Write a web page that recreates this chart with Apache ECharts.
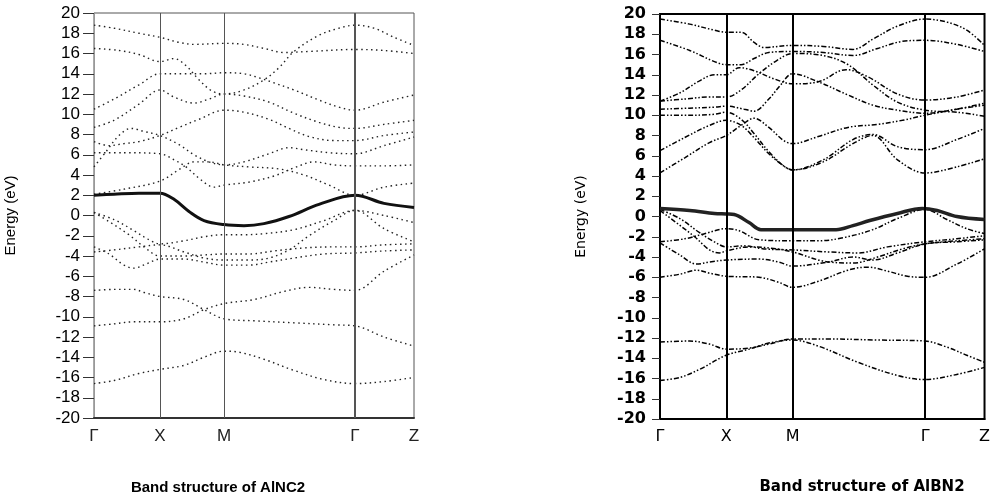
<!DOCTYPE html>
<html>
<head>
<meta charset="utf-8">
<script src="https://cdn.jsdelivr.net/npm/echarts@6/dist/echarts.min.js"></script>
<style>
html,body{margin:0;padding:0;background:#fff;}
#chart{width:993px;height:501px;}
</style>
</head>
<body>
<div id="chart"></div>
<script>
// ---- high-symmetry points ----
const kLabels = ['Γ', 'X', 'M', 'Γ', 'Z'];
const leftKPos = [0, 66, 130, 261, 320];
const rightKPos = [0, 67, 134, 268, 328];
const yTicks = [-20, 20, 2]; // min, max, step

// ---- Left panel: AlNC2 bands, [k, E(eV)] ----
const leftSolid = [[0,2.0],[20,2.1],[45,2.2],[66,2.2],[80,1.6],[95,0.4],[110,-0.5],[130,-0.9],[150,-1.0],[170,-0.8],[195,-0.1],[225,1.1],[261,2.0],[290,1.2],[320,0.8]];
const leftU1 = [[0,18.8],[20,18.5],[45,18.0],[66,17.6],[85,17.1],[100,16.9],[130,17.0],[150,16.9],[170,16.5],[190,16.1],[215,16.2],[261,16.4],[290,16.3],[320,16.0]];
const leftU2 = [[0,16.5],[25,16.3],[45,15.9],[66,15.2],[80,15.5],[92,14.8],[105,13.4],[118,12.3],[130,12.0],[150,12.4],[170,13.4],[185,14.6],[200,16.2],[225,17.8],[245,18.5],[261,18.8],[280,18.5],[300,17.6],[320,16.8]];
const leftU3 = [[0,10.5],[20,11.5],[45,12.9],[66,14.0],[90,14.0],[110,14.0],[130,14.1],[150,14.0],[165,13.6],[180,13.1],[200,12.4],[225,11.4],[245,10.7],[261,10.4],[290,11.2],[320,11.9]];
const leftU4 = [[0,8.7],[20,9.4],[45,11.0],[66,12.4],[80,11.7],[100,11.1],[115,11.5],[130,12.0],[150,11.8],[175,11.2],[200,10.1],[225,9.2],[245,8.7],[261,8.6],[290,9.0],[320,9.4]];
const leftU5 = [[0,7.3],[15,6.9],[30,7.1],[45,7.3],[66,7.9],[85,8.7],[105,9.5],[130,10.4],[150,10.2],[175,9.5],[195,8.6],[215,7.8],[240,7.4],[261,7.4],[290,7.9],[320,8.25]];
const leftU6 = [[0,4.8],[12,6.3],[25,7.9],[37,8.6],[50,8.3],[66,7.9],[85,7.0],[100,6.0],[115,5.3],[130,5.0],[150,5.3],[175,6.1],[195,6.7],[210,6.5],[235,6.2],[261,6.1],[290,6.9],[320,7.75]];
const leftU7 = [[0,6.2],[30,6.2],[66,6.1],[80,5.5],[92,4.8],[106,3.6],[120,2.8],[130,3.0],[155,3.3],[180,3.9],[200,4.7],[220,5.3],[240,5.0],[261,4.9],[290,4.9],[320,5.0]];
const leftU8 = [[0,2.1],[30,2.6],[66,3.4],[86,4.6],[100,5.3],[115,5.3],[130,5.0],[155,4.8],[185,4.6],[210,4.0],[235,3.0],[261,2.0],[290,2.8],[320,3.2]];
const leftL1 = [[0,0.3],[20,-0.4],[40,-1.5],[55,-2.4],[66,-2.8],[90,-2.5],[110,-2.1],[130,-1.9],[150,-1.9],[170,-1.8],[200,-1.4],[230,-0.5],[261,0.5],[290,0.0],[320,-0.7]];
const leftL2 = [[0,0.3],[15,-0.6],[35,-1.9],[50,-3.1],[66,-4.0],[90,-4.0],[110,-3.9],[130,-3.8],[155,-3.8],[180,-3.5],[210,-3.2],[240,-3.1],[261,-3.1],[290,-2.9],[320,-2.8]];
const leftL3 = [[0,-3.1],[15,-3.8],[30,-4.9],[40,-5.2],[52,-4.8],[66,-4.3],[90,-4.3],[110,-4.6],[130,-4.9],[155,-4.9],[175,-4.6],[200,-4.2],[230,-3.8],[261,-3.7],[290,-3.5],[320,-3.4]];
const leftL4 = [[0,-3.6],[20,-3.4],[45,-3.1],[66,-2.9],[90,-3.6],[110,-4.2],[130,-4.4],[155,-4.4],[175,-4.2],[195,-3.4],[215,-2.0],[240,-0.5],[261,0.5],[290,-1.3],[320,-2.6]];
const leftL5 = [[0,-7.4],[20,-7.3],[40,-7.3],[50,-7.6],[66,-8.0],[90,-8.3],[110,-9.3],[130,-10.2],[160,-10.4],[200,-10.6],[240,-10.8],[261,-10.9],[290,-12.0],[320,-12.9]];
const leftL6 = [[0,-10.9],[20,-10.7],[40,-10.5],[66,-10.5],[90,-10.2],[110,-9.3],[130,-8.7],[160,-8.3],[190,-7.5],[215,-7.1],[240,-7.3],[261,-7.4],[290,-5.5],[320,-3.9]];
const leftL7 = [[0,-16.6],[20,-16.3],[45,-15.6],[66,-15.2],[90,-14.8],[110,-14.0],[130,-13.4],[145,-13.5],[170,-14.2],[200,-15.3],[230,-16.2],[261,-16.6],[290,-16.4],[320,-16.0]];
const leftDotted = [leftU1,leftU2,leftU3,leftU4,leftU5,leftU6,leftU7,leftU8,leftL1,leftL2,leftL3,leftL4,leftL5,leftL6,leftL7];

// ---- Right panel: AlBN2 bands ----
const rightSolid = [[0,0.8],[30,0.6],[55,0.3],[67,0.25],[75,0.2],[90,-0.6],[102,-1.3],[134,-1.3],[178,-1.3],[195,-0.9],[212,-0.4],[240,0.3],[265,0.8],[280,0.6],[300,0.0],[328,-0.3]];
const rightA = [[0,19.5],[30,19.0],[55,18.4],[67,18.2],[82,18.2],[95,17.2],[105,16.7],[134,16.9],[165,16.8],[195,16.5],[215,17.5],[240,18.8],[268,19.5],[290,19.2],[310,18.4],[328,16.9]];
const rightB = [[0,17.4],[30,16.4],[55,15.3],[67,15.0],[82,15.0],[95,15.6],[110,16.2],[134,16.3],[165,16.2],[195,15.9],[220,16.6],[245,17.3],[268,17.4],[300,17.0],[328,16.3]];
const rightC = [[0,11.4],[20,12.2],[40,13.4],[55,14.0],[67,14.0],[80,14.7],[95,14.4],[115,13.6],[134,13.1],[160,13.3],[188,14.5],[210,13.8],[240,12.1],[268,11.5],[300,11.8],[328,12.5]];
const rightD = [[0,11.4],[25,11.6],[50,11.8],[67,11.8],[82,12.5],[100,14.1],[118,15.4],[134,16.1],[165,15.9],[190,15.0],[215,13.0],[240,11.3],[268,10.5],[300,10.3],[328,9.9]];
const rightE = [[0,10.6],[30,10.7],[55,10.8],[67,10.9],[85,10.6],[95,10.4],[110,11.6],[122,13.0],[134,14.1],[160,13.3],[190,12.0],[215,11.0],[240,10.5],[268,10.2],[300,10.6],[328,11.2]];
const rightF = [[0,10.0],[30,10.0],[55,10.1],[67,10.3],[82,9.6],[95,8.2],[110,6.4],[125,5.0],[134,4.6],[165,5.6],[195,7.6],[215,8.1],[240,6.9],[268,6.6],[300,7.6],[328,8.7]];
const rightG = [[0,6.5],[25,7.8],[50,9.0],[67,9.5],[82,9.0],[95,7.8],[110,6.2],[125,5.0],[134,4.6],[165,5.4],[195,7.2],[215,8.0],[240,5.6],[268,4.3],[300,4.9],[328,5.7]];
const rightH = [[0,4.3],[25,5.8],[50,7.3],[67,8.0],[82,9.0],[95,9.7],[110,8.8],[125,7.5],[134,7.2],[160,7.9],[190,8.8],[220,9.1],[245,9.5],[268,10.0],[300,10.6],[328,11.0]];
const rightL1 = [[0,0.7],[20,-0.2],[40,-1.6],[55,-2.5],[67,-3.0],[85,-2.9],[105,-3.2],[134,-3.3],[170,-3.5],[200,-3.6],[230,-3.0],[268,-2.5],[300,-2.2],[328,-1.9]];
const rightL2 = [[0,0.6],[15,-0.5],[35,-2.0],[50,-3.3],[60,-3.6],[67,-3.4],[90,-3.0],[110,-3.1],[134,-3.5],[165,-4.4],[195,-4.6],[220,-4.0],[245,-3.2],[268,-2.7],[300,-2.4],[328,-2.2]];
const rightL3 = [[0,-2.5],[25,-2.2],[45,-1.7],[67,-1.2],[80,-1.4],[100,-2.3],[134,-2.4],[160,-2.4],[185,-2.1],[215,-1.3],[240,-0.2],[268,0.7],[290,-0.3],[310,-1.2],[328,-1.7]];
const rightL4 = [[0,-2.6],[20,-3.8],[37,-4.7],[50,-4.5],[67,-4.3],[100,-4.2],[120,-4.5],[134,-4.9],[170,-4.5],[195,-4.0],[215,-4.3],[240,-3.6],[268,-2.7],[300,-2.5],[328,-2.3]];
const rightL5 = [[0,-6.0],[20,-5.7],[37,-5.3],[50,-5.6],[67,-5.9],[100,-6.0],[120,-6.5],[134,-7.0],[160,-6.4],[190,-5.3],[210,-5.0],[230,-5.4],[250,-5.9],[268,-6.0],[300,-4.7],[328,-3.2]];
const rightL6 = [[0,-12.4],[30,-12.3],[50,-12.6],[67,-13.1],[90,-13.0],[110,-12.6],[134,-12.1],[170,-12.1],[220,-12.2],[268,-12.3],[290,-12.9],[310,-13.7],[328,-14.4]];
const rightL7 = [[0,-16.2],[20,-15.9],[40,-15.1],[67,-13.7],[90,-13.1],[110,-12.5],[134,-12.2],[160,-12.8],[200,-14.4],[240,-15.7],[268,-16.1],[300,-15.6],[328,-14.9]];
const rightDotted = [rightA,rightB,rightC,rightD,rightE,rightF,rightG,rightH,rightL1,rightL2,rightL3,rightL4,rightL5,rightL6,rightL7];

const titles = ['Band structure of AlNC2', 'Band structure of AlBN2'];
const yName = 'Energy (eV)';

const chart = echarts.init(document.getElementById('chart'), null, {renderer: 'canvas'});

function xAxisFor(idx, kpos, font, labelColor, size, weight) {
  return {
    type: 'value', gridIndex: idx, min: kpos[0], max: kpos[kpos.length - 1],
    axisLine: {show: true, onZero: false, lineStyle: {color: idx === 0 ? '#333' : '#000', width: 2}},
    axisTick: {show: false},
    splitLine: {show: false},
    axisLabel: {
      customValues: kpos, margin: 10,
      fontFamily: font, fontSize: size, fontWeight: weight, color: labelColor,
      formatter: function (v) { const i = kpos.indexOf(v); return i >= 0 ? kLabels[i] : ''; }
    }
  };
}
function yAxisFor(idx, font, axisColor, gap, size, weight, nameSize) {
  return {
    type: 'value', gridIndex: idx, min: yTicks[0], max: yTicks[1], interval: yTicks[2],
    name: yName, nameLocation: 'middle', nameGap: gap, nameRotate: 90,
    nameTextStyle: {fontFamily: font, fontSize: nameSize, color: '#000'},
    axisLine: {show: true, lineStyle: {color: axisColor, width: idx === 0 ? 1 : 2}},
    axisTick: {show: true, inside: false, length: idx === 0 ? 11 : 8, lineStyle: {color: '#333', width: 1}},
    splitLine: {show: false},
    axisLabel: {margin: 14, fontFamily: font, fontSize: size, fontWeight: weight, color: '#000'}
  };
}

const series = [];
function addBands(idx, bands, solid, dashType, color, width, solidColor, solidWidth, kpos, vColor, vWidthLast) {
  bands.forEach(function (b) {
    series.push({
      type: 'line', xAxisIndex: idx, yAxisIndex: idx, data: b, smooth: 0.35,
      showSymbol: false, silent: true, animation: false,
      lineStyle: {type: dashType, width: width, color: color}
    });
  });
  series.push({
    type: 'line', xAxisIndex: idx, yAxisIndex: idx, data: solid, smooth: 0.35,
    showSymbol: false, silent: true, animation: false,
    lineStyle: {type: 'solid', width: solidWidth, color: solidColor},
    markLine: {
      silent: true, symbol: 'none', animation: false, label: {show: false},
      data: kpos.slice(1, kpos.length - 1).map(function (k, i) {
        return {xAxis: k, lineStyle: {type: 'solid', color: vColor, width: i === 2 ? vWidthLast : (idx === 0 ? 1 : 2)}};
      })
    }
  });
}
addBands(0, leftDotted, leftSolid, [1.5, 3.5], '#222', 1.4, '#111', 3, leftKPos, '#555', 2);
addBands(1, rightDotted, rightSolid, [5, 2, 1.5, 2, 1.5, 2], '#000', 1.5, '#222', 3.5, rightKPos, '#000', 2);

const option = {
  backgroundColor: '#fff',
  animation: false,
  title: [
    {text: titles[0], left: 213, top: 475, textAlign: 'center',
     textStyle: {fontFamily: 'Liberation Sans', fontWeight: 'bold', fontSize: 15, color: '#000'}},
    {text: titles[1], left: 857, top: 475, textAlign: 'center',
     textStyle: {fontFamily: 'DejaVu Sans', fontWeight: 'bold', fontSize: 15, color: '#000'}}
  ],
  grid: [
    {left: 94, top: 13, width: 320, height: 405, show: true, borderColor: '#555', borderWidth: 1, containLabel: false},
    {left: 660, top: 14, width: 328, height: 405, show: true, borderColor: '#000', borderWidth: 2, containLabel: false}
  ],
  xAxis: [
    xAxisFor(0, leftKPos, 'Liberation Sans', '#222', 17, 'normal'),
    xAxisFor(1, rightKPos, 'DejaVu Sans', '#000', 16, 'normal')
  ],
  yAxis: [
    yAxisFor(0, 'Liberation Sans', '#999', 76, 17, 'normal', 15),
    yAxisFor(1, 'DejaVu Sans', '#000', 72, 16, 'bold', 14)
  ],
  series: series
};
chart.setOption(option);
</script>
</body>
</html>
